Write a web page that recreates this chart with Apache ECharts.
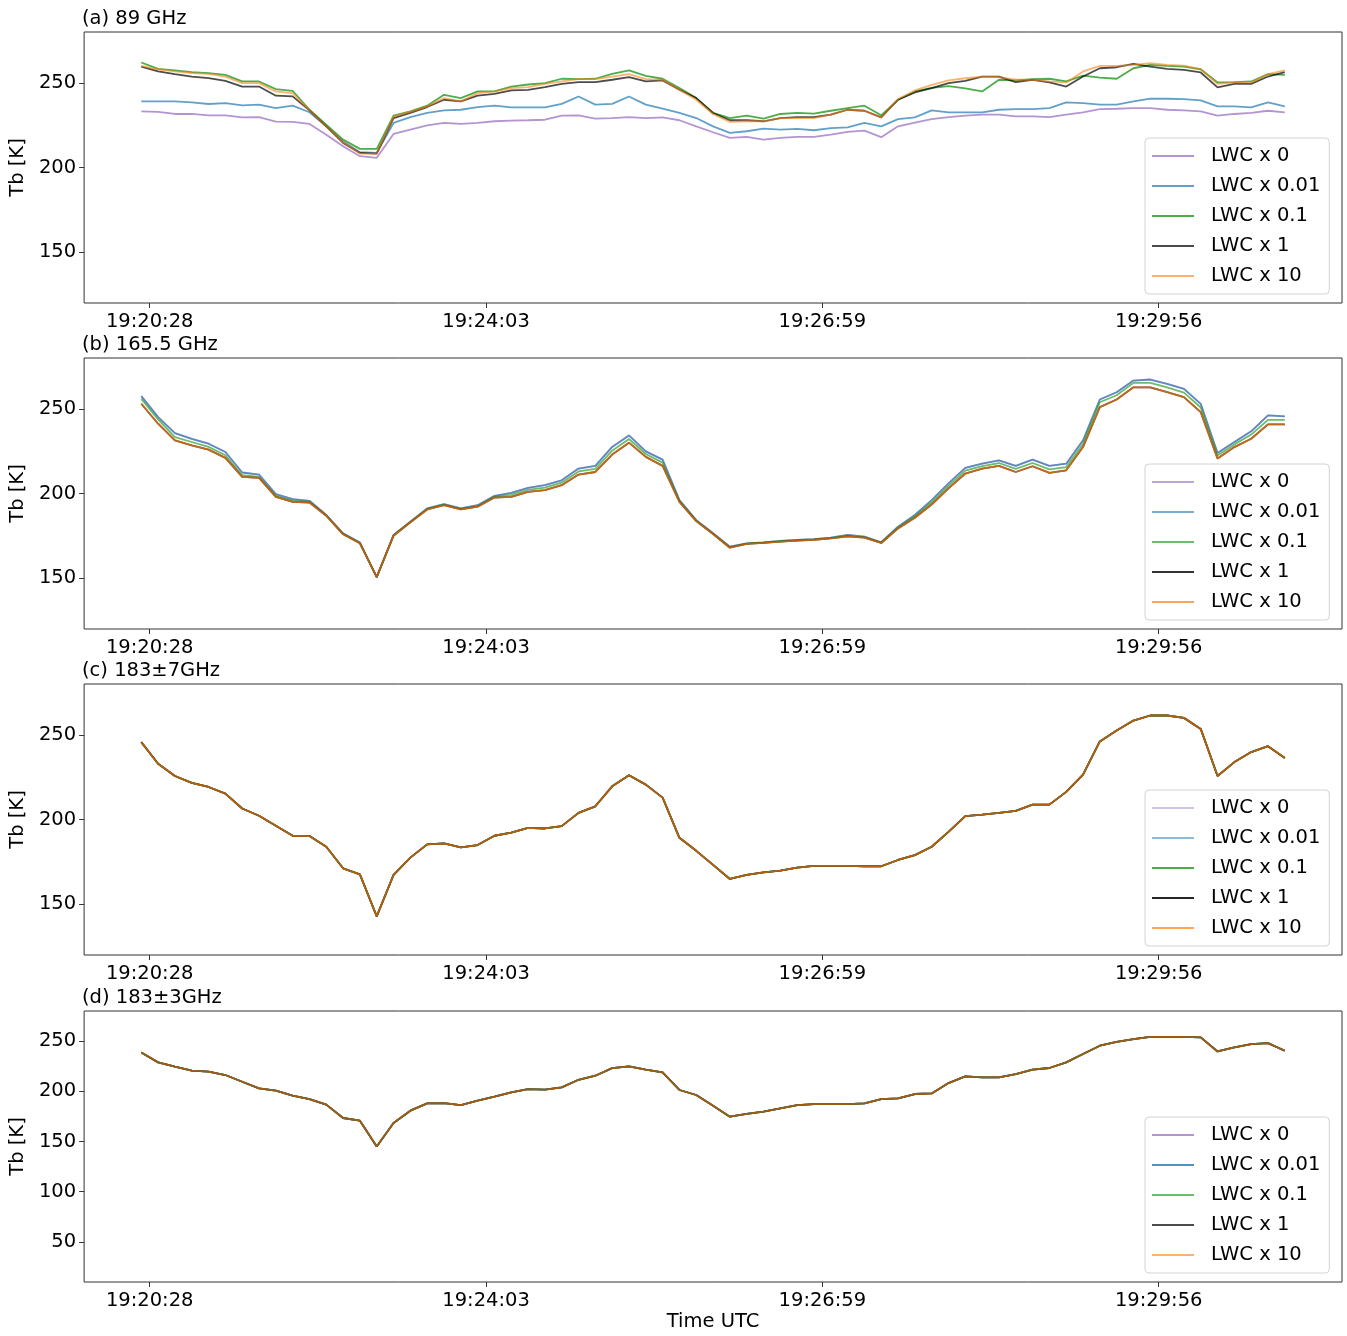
<!DOCTYPE html>
<html><head><meta charset="utf-8">
<script src="https://cdn.jsdelivr.net/npm/echarts@6/dist/echarts.min.js"></script>
<style>html,body{margin:0;padding:0;background:#fff}#chart{width:1347px;height:1336px}</style>
</head><body><div id="chart"></div>
<script>
// ---------- data ----------
const seriesNames = ['LWC x 0', 'LWC x 0.01', 'LWC x 0.1', 'LWC x 1', 'LWC x 10'];
const panelTitles = ['(a) 89 GHz', '(b) 165.5 GHz', '(c) 183±7GHz', '(d) 183±3GHz'];
const tickPositions = [0.5, 20.5, 40.5, 60.5];
const tickLabels = ['19:20:28', '19:24:03', '19:26:59', '19:29:56'];
const yTicksABC = [150, 200, 250];
const yTicksD = [50, 100, 150, 200, 250];

// (a) 89 GHz
const a_lwc0 = [233.1,232.8,231.6,231.6,230.8,230.8,229.6,229.8,227.1,226.9,225.7,219.4,212.6,206.7,205.7,219.8,222.4,224.9,226.3,225.7,226.3,227.3,227.7,227.9,228.2,230.6,230.8,228.8,229.2,229.8,229.2,229.6,227.9,224.3,220.8,217.5,218.1,216.5,217.5,218.1,218.1,219.4,221.0,221.8,217.9,224.3,226.5,228.6,229.7,230.6,231.2,231.2,230.2,230.2,229.8,231.2,232.5,234.5,234.7,235.1,235.1,234.1,233.7,233.1,230.6,231.6,232.2,233.5,232.5];
const a_lwc001 = [239.0,239.0,239.0,238.4,237.5,238.0,236.7,237.1,235.1,236.5,232.6,224.3,215.5,209.0,208.6,226.3,229.8,232.2,233.7,234.1,235.7,236.5,235.5,235.5,235.5,237.6,241.9,237.1,237.6,241.9,237.1,234.7,232.2,229.2,224.3,220.4,221.4,222.9,222.4,222.8,222.0,223.3,223.7,226.3,224.3,228.6,229.6,233.7,232.5,232.5,232.5,234.1,234.5,234.5,235.1,238.4,238.0,237.1,237.1,239.0,240.6,240.6,240.4,239.6,236.1,236.1,235.5,238.4,236.1];
const a_lwc01 = [262.0,258.2,257.3,256.3,255.7,254.7,250.8,250.8,246.3,245.3,234.1,225.3,216.5,211.0,211.0,230.6,233.1,236.5,242.9,241.0,244.9,244.9,247.8,249.0,249.8,252.4,252.2,252.4,255.3,257.3,254.1,252.4,246.9,241.0,232.2,229.2,230.6,228.8,231.6,232.2,231.8,233.5,235.1,236.5,230.8,240.0,244.9,247.0,248.0,246.7,244.9,251.8,251.4,252.2,252.4,250.8,254.3,253.1,252.4,258.6,260.6,260.0,259.6,258.0,250.2,250.4,250.8,255.1,254.7];
const a_lwc1 = [259.6,256.7,255.1,253.7,252.8,251.2,247.8,247.8,242.4,242.0,233.7,224.3,214.5,208.6,208.2,229.2,232.2,235.7,240.0,239.0,242.4,243.5,245.5,245.8,247.4,249.4,250.4,250.4,251.8,253.3,250.8,251.4,245.9,241.0,232.2,227.9,227.9,227.3,229.2,229.8,229.8,231.2,234.1,233.5,229.6,240.0,244.3,246.9,249.8,251.2,253.7,253.7,250.4,251.8,250.2,247.8,253.7,258.6,259.2,261.2,259.6,258.2,257.6,256.1,247.3,249.4,249.4,253.7,256.3];
const a_lwc10 = [260.0,258.0,256.7,255.7,255.3,253.7,249.8,249.8,244.9,243.9,233.7,224.3,214.9,208.2,208.2,230.2,232.8,236.1,241.0,239.0,243.9,244.9,246.9,247.4,249.4,250.8,252.2,252.2,253.7,255.1,252.2,251.8,245.9,240.0,231.6,226.9,227.3,227.3,229.2,229.2,229.2,231.2,234.1,233.5,229.6,240.4,245.5,248.8,251.5,252.7,253.7,253.3,251.8,251.8,250.8,250.2,256.7,260.0,260.0,260.6,261.6,260.6,260.2,258.0,249.4,250.2,250.2,255.1,257.3];

// (b) 165.5 GHz
const b_lwc0 = [257.5,245.1,235.7,232.3,229.4,224.5,212.4,211.2,199.6,196.7,195.7,187.3,176.5,171.0,150.6,175.5,183.3,191.2,193.7,191.2,193.1,198.6,200.4,203.3,204.9,207.8,214.7,216.3,227.5,234.3,224.9,220.0,196.1,184.3,176.5,168.6,170.6,171.2,172.0,172.6,173.1,173.9,175.5,174.5,171.2,180.4,187.3,196.1,206.0,215.1,217.6,219.6,216.3,220.0,216.3,217.6,231.4,255.5,259.8,266.7,267.3,264.7,261.8,252.9,223.9,230.4,236.7,246.1,245.5];
const b_lwc001 = b_lwc0;
const b_lwc01 = [255.9,243.7,233.3,230.4,227.5,222.6,210.8,209.8,198.6,195.8,195.2,187.1,176.2,170.8,150.6,175.3,183.2,190.9,193.4,190.9,192.6,198.1,199.2,202.2,203.5,206.4,213.0,214.5,225.3,232.2,223.3,218.2,195.6,184.0,176.3,168.3,170.4,171.0,171.8,172.4,172.9,173.7,175.1,174.2,171.0,179.9,186.5,194.8,204.5,213.5,216.2,218.0,214.5,218.0,214.2,215.6,229.4,253.9,258.0,265.3,265.3,262.7,259.6,250.8,222.4,229.0,234.8,243.5,243.5];
const b_lwc1 = [253.0,241.2,231.4,228.4,225.9,221.0,209.8,209.2,198.0,195.1,194.7,186.9,175.9,170.6,150.6,175.1,183.0,190.6,193.1,190.6,192.2,197.6,198.0,201.0,202.0,204.9,211.2,212.7,223.0,230.0,221.6,216.3,195.1,183.7,176.1,168.0,170.2,170.8,171.6,172.2,172.7,173.5,174.7,173.9,170.8,179.4,185.7,193.5,203.0,211.8,214.7,216.3,212.7,216.1,212.2,213.7,227.4,251.0,255.5,262.7,262.7,259.8,256.9,248.0,220.6,227.4,232.3,240.8,240.8];
const b_lwc10 = b_lwc1;

// (c) 183±7 GHz (all five runs overlap)
const c_all = [245.7,232.9,225.7,221.6,219.2,215.3,206.5,202.2,196.3,190.4,190.2,183.9,171.2,167.6,142.8,167.3,177.5,185.3,185.9,183.5,184.9,190.4,192.2,195.1,194.7,196.1,203.9,207.8,219.6,226.1,220.6,212.9,189.2,181.5,173.2,164.9,167.3,168.8,169.8,171.6,172.6,172.6,172.6,172.4,172.4,176.1,179.0,183.9,192.7,202.0,202.9,203.9,205.1,208.8,208.8,216.3,226.5,246.1,252.6,258.4,261.4,261.4,260.0,253.5,225.7,233.9,239.8,243.3,236.3];

// (d) 183±3 GHz (all five runs overlap)
const d_all = [238.7,228.8,224.5,220.5,219.5,216.2,209.5,202.9,200.6,195.6,192.3,186.7,173.4,170.7,144.9,168.4,180.7,188.0,188.3,186.3,190.6,194.6,198.9,202.2,201.6,203.9,211.5,215.5,223.1,224.8,221.5,218.8,201.3,196.3,185.7,174.7,177.4,179.7,183.0,186.3,187.3,187.3,187.3,188.0,192.3,193.0,197.3,197.9,208.2,214.9,213.9,213.9,217.2,221.5,223.2,228.8,237.1,245.4,249.3,252.0,254.3,254.3,254.3,253.7,239.7,243.7,247.0,248.0,240.4];

const panelData = [
  [a_lwc0, a_lwc001, a_lwc01, a_lwc1, a_lwc10],
  [b_lwc0, b_lwc001, b_lwc01, b_lwc1, b_lwc10],
  [c_all, c_all, c_all, c_all, c_all],
  [d_all, d_all, d_all, d_all, d_all]
];

// ---------- styling / layout ----------
const FONT = 'DejaVu Sans';
const FS = 19.5;
const baseRGB = [[148,103,189],[31,119,180],[44,160,44],[0,0,0],[255,127,14]];
const panelAlpha = [
  [0.7, 0.7, 0.85, 0.7, 0.6],
  [0.6, 0.6, 0.7, 0.8, 0.7],
  [0.4, 0.5, 0.85, 0.85, 0.7],
  [0.7, 0.8, 0.7, 0.7, 0.6]
];
function rgba(k, a) { const c = baseRGB[k]; return 'rgba(' + c[0] + ',' + c[1] + ',' + c[2] + ',' + a + ')'; }

const gridLeft = 83, gridWidth = 1259, gridHeight = 271;
const gridTops = [32, 358, 684, 1011];

const option = {
  animation: false,
  backgroundColor: '#fff',
  textStyle: { fontFamily: FONT },
  title: [], grid: [], xAxis: [], yAxis: [], legend: [], series: []
};

gridTops.forEach((top, p) => {
  option.title.push({
    text: panelTitles[p], left: gridLeft - 1, top: top - 23, padding: 0,
    textStyle: { fontFamily: FONT, fontSize: FS, fontWeight: 'normal', color: '#000' }
  });
  option.grid.push({
    left: gridLeft, top: top, width: gridWidth, height: gridHeight,
    show: true, borderColor: '#333', borderWidth: 1, backgroundColor: 'transparent'
  });
  option.xAxis.push({
    type: 'value', gridIndex: p, min: -3.4, max: 71.4,
    axisLine: { show: false, onZero: false },
    splitLine: { show: false },
    axisTick: { show: true, length: 5, lineStyle: { color: '#333' }, customValues: tickPositions },
    axisLabel: {
      customValues: tickPositions, margin: 9,
      fontFamily: FONT, fontSize: FS, color: '#000',
      formatter: function (v) {
        let best = 0;
        tickPositions.forEach((t, i) => { if (Math.abs(t - v) < Math.abs(tickPositions[best] - v)) best = i; });
        return tickLabels[best];
      }
    },
    name: p === 3 ? 'Time UTC' : '',
    nameLocation: 'middle', nameGap: 30,
    nameTextStyle: { fontFamily: FONT, fontSize: FS, color: '#000' }
  });
  const yt = p === 3 ? yTicksD : yTicksABC;
  option.yAxis.push({
    type: 'value', gridIndex: p,
    min: p === 3 ? 10 : 120, max: 280,
    axisLine: { show: false, onZero: false },
    splitLine: { show: false },
    axisTick: { show: true, length: 5, lineStyle: { color: '#333' }, customValues: yt },
    axisLabel: { customValues: yt, margin: 8, fontFamily: FONT, fontSize: FS, color: '#000' },
    name: 'Tb [K]', nameLocation: 'middle', nameGap: 51,
    nameTextStyle: { fontFamily: FONT, fontSize: FS, color: '#000' }
  });
  option.legend.push({
    orient: 'vertical', left: 1145, top: top + 106,
    selectedMode: false,
    icon: 'rect', itemWidth: 42, itemHeight: 2, itemGap: 10,
    padding: [8, 9, 8, 7],
    backgroundColor: 'rgba(255,255,255,0.8)',
    borderColor: '#d3d3d3', borderWidth: 1, borderRadius: 4,
    textStyle: { fontFamily: FONT, fontSize: FS, color: '#000', lineHeight: 20, padding: [0, 0, 0, 12] },
    data: seriesNames.map((n, k) => ({ name: n, itemStyle: { color: rgba(k, panelAlpha[p][k]) } }))
  });
  panelData[p].forEach((arr, k) => {
    option.series.push({
      type: 'line', name: seriesNames[k],
      xAxisIndex: p, yAxisIndex: p,
      symbol: 'none', silent: true,
      data: arr.map((v, i) => [i, v]),
      lineStyle: { color: rgba(k, panelAlpha[p][k]), width: 1.8 },
      itemStyle: { color: rgba(k, panelAlpha[p][k]) },
      z: 2 + k
    });
  });
});

const chart = echarts.init(document.getElementById('chart'), null, { renderer: 'canvas' });
chart.setOption(option);
</script>
</body></html>
